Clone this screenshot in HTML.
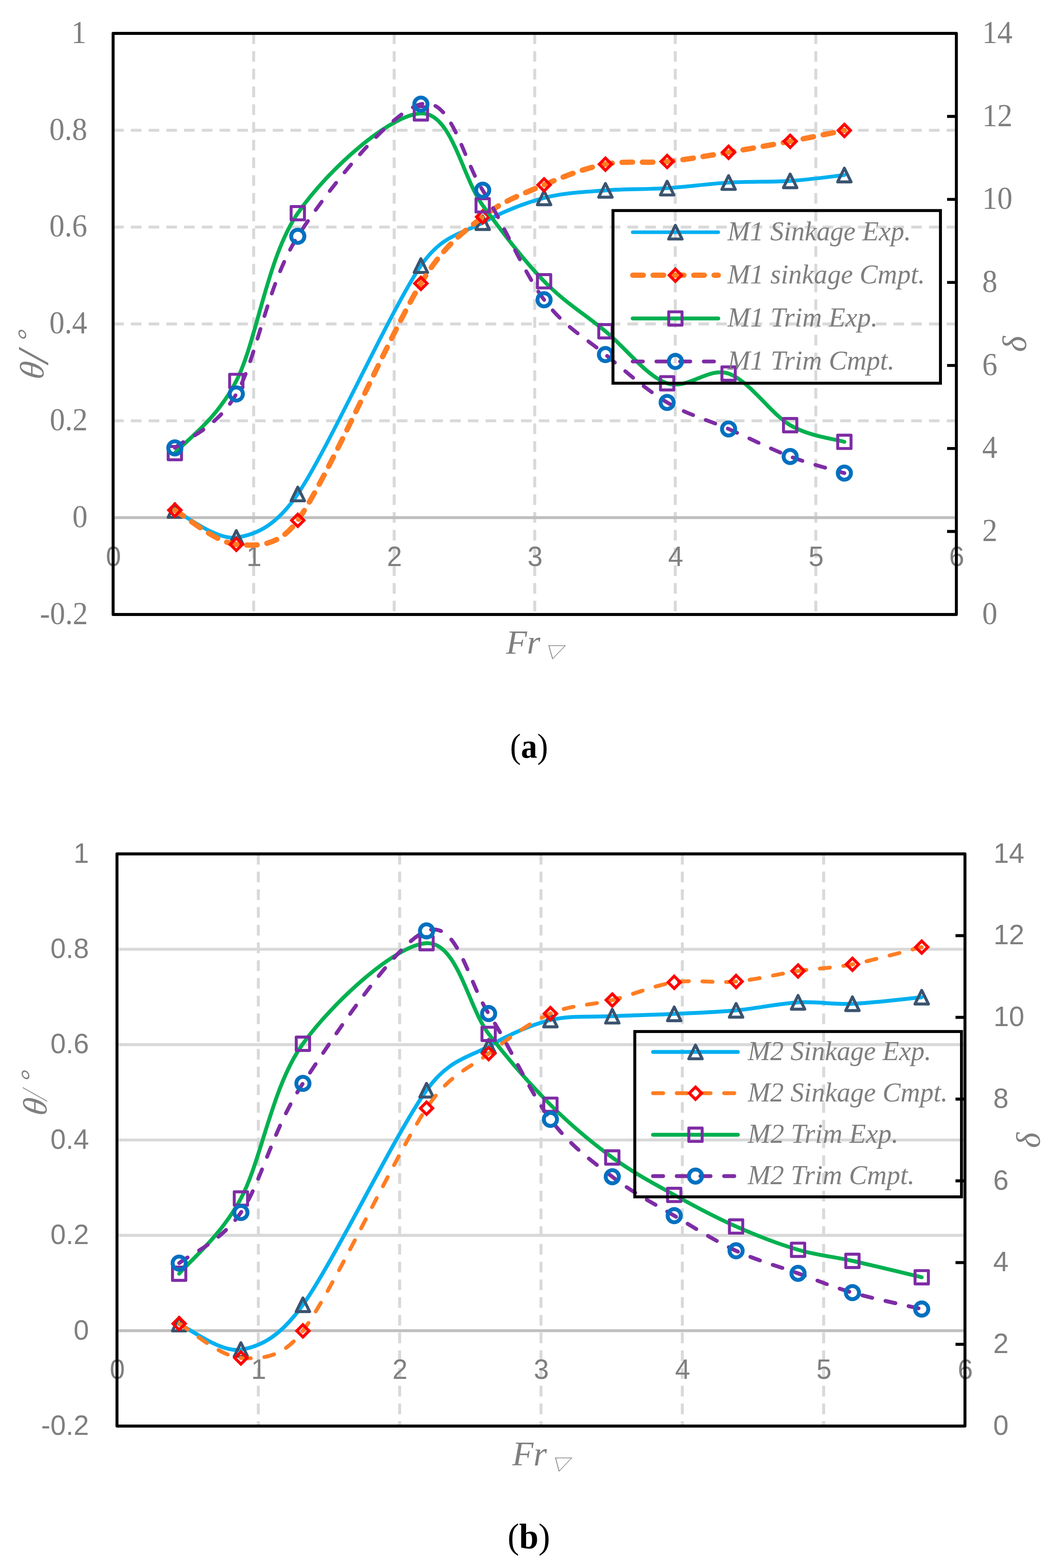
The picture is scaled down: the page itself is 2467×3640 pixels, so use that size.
<!DOCTYPE html>
<html lang="en"><head><meta charset="utf-8"><title>Sinkage and trim versus volumetric Froude number</title>
<style>html,body{margin:0;padding:0;background:#fff;width:2467px;height:3640px;overflow:hidden}svg{display:block}text{white-space:pre}</style>
</head><body>
<svg width="2467" height="3640" viewBox="0 0 2467 3640" role="img" aria-label="Sinkage and trim versus volumetric Froude number for models M1 (a) and M2 (b)">
<rect width="2467" height="3640" fill="#fff"/>
<g>
<g fill="none" stroke="#d9d9d9" stroke-width="6.86">
<path d="M588.67 77.5V1426.5" stroke-dasharray="24.7 16.46"/>
<path d="M914.83 77.5V1426.5" stroke-dasharray="24.7 16.46"/>
<path d="M1241 77.5V1426.5" stroke-dasharray="24.7 16.46"/>
<path d="M1567.17 77.5V1426.5" stroke-dasharray="24.7 16.46"/>
<path d="M1893.33 77.5V1426.5" stroke-dasharray="24.7 16.46"/>
<path d="M262.5 302.33H2219.5" stroke-dasharray="24.7 16.46"/>
<path d="M262.5 527.17H2219.5" stroke-dasharray="24.7 16.46"/>
<path d="M262.5 752H2219.5" stroke-dasharray="24.7 16.46"/>
<path d="M262.5 976.83H2219.5" stroke-dasharray="24.7 16.46"/>
</g>
<g fill="#7f7f7f" font-family="'Liberation Serif',serif" font-size="73">
<g text-anchor="end">
<text transform="translate(200.5 99.8) scale(0.965 1)">1</text>
<text transform="translate(202.5 324.63) scale(0.965 1)">0.8</text>
<text transform="translate(202.5 549.47) scale(0.965 1)">0.6</text>
<text transform="translate(202.5 774.3) scale(0.965 1)">0.4</text>
<text transform="translate(203.5 999.13) scale(0.965 1)">0.2</text>
<text transform="translate(203.2 1223.97) scale(0.965 1)">0</text>
<text transform="translate(204 1448.8) scale(0.965 1)">-0.2</text>
</g><g>
<text transform="translate(2279.4 1448.8) scale(0.965 1)">0</text>
<text transform="translate(2279.4 1256.09) scale(0.965 1)">2</text>
<text transform="translate(2279.4 1063.37) scale(0.965 1)">4</text>
<text transform="translate(2279.4 870.66) scale(0.965 1)">6</text>
<text transform="translate(2279.4 677.94) scale(0.965 1)">8</text>
<text transform="translate(2279.4 485.23) scale(0.965 1)">10</text>
<text transform="translate(2279.4 292.51) scale(0.965 1)">12</text>
<text transform="translate(2279.4 99.8) scale(0.965 1)">14</text>
</g>
<g text-anchor="middle" font-family="'Liberation Sans',sans-serif" font-size="65.3">
<text transform="translate(263.3 1313.57) scale(0.965 1)">0</text>
<text transform="translate(589.47 1313.57) scale(0.965 1)">1</text>
<text transform="translate(915.63 1313.57) scale(0.965 1)">2</text>
<text transform="translate(1241.8 1313.57) scale(0.965 1)">3</text>
<text transform="translate(1567.97 1313.57) scale(0.965 1)">4</text>
<text transform="translate(1894.13 1313.57) scale(0.965 1)">5</text>
<text transform="translate(2220.3 1313.57) scale(0.965 1)">6</text>
</g></g>
<path d="M262.5 1201.67H2219.5" fill="none" stroke="#bfbfbf" stroke-width="6.86"/>
<g fill="none" stroke-linecap="round" stroke-linejoin="round">
<path d="M405.8 1185.1 C429.57 1195.55 500.85 1254.18 548.4 1247.8 C595.95 1241.42 642.01 1219.12 691.1 1146.8 C762.5 1041.62 905.28 721.67 976.8 616.7 C1025.97 544.53 1072.55 543.2 1120.2 517 C1167.85 490.8 1215.22 472 1262.7 459.5 C1310.18 447 1357.5 445.78 1405.1 442 C1452.7 438.22 1500.67 439.83 1548.3 436.8 C1595.93 433.77 1643.32 426.6 1690.9 423.8 C1738.48 421 1789.02 422.9 1833.8 420 C1878.58 417.1 1938.63 408.67 1959.6 406.4" stroke="#00b0f0" stroke-width="8.8"/>
<g stroke="#3b536f" stroke-width="6.86"><path d="M405.8 1169.1L421.4 1200.9L390.2 1200.9Z"/><path d="M548.4 1231.8L564 1263.6L532.8 1263.6Z"/><path d="M691.1 1130.8L706.7 1162.6L675.5 1162.6Z"/><path d="M976.8 600.7L992.4 632.5L961.2 632.5Z"/><path d="M1120.2 501L1135.8 532.8L1104.6 532.8Z"/><path d="M1262.7 443.5L1278.3 475.3L1247.1 475.3Z"/><path d="M1405.1 426L1420.7 457.8L1389.5 457.8Z"/><path d="M1548.3 420.8L1563.9 452.6L1532.7 452.6Z"/><path d="M1690.9 407.8L1706.5 439.6L1675.3 439.6Z"/><path d="M1833.8 404L1849.4 435.8L1818.2 435.8Z"/><path d="M1959.6 390.4L1975.2 422.2L1944 422.2Z"/></g>
<path d="M405.8 1184.3 C429.57 1197.53 500.85 1259.77 548.4 1263.7 C595.95 1267.63 646.87 1270.45 691.1 1207.9 C762.5 1106.93 905.28 775.3 976.8 657.9 C1031.61 567.92 1072.55 541.62 1120.2 503.5 C1167.85 465.38 1215.22 449.58 1262.7 429.2 C1310.18 408.82 1357.5 390.25 1405.1 381.2 C1452.7 372.15 1500.67 379.52 1548.3 374.9 C1595.93 370.28 1643.32 361.3 1690.9 353.5 C1738.48 345.7 1789.02 336.55 1833.8 328.1 C1878.58 319.65 1938.63 307.02 1959.6 302.8" stroke="#ff7d23" stroke-width="12.4" stroke-dasharray="24.4 22.8"/>
<g stroke="#ff0000" stroke-width="6.86" stroke-linejoin="miter"><path d="M405.8 1170L420.1 1184.3L405.8 1198.6L391.5 1184.3Z"/><path d="M548.4 1249.4L562.7 1263.7L548.4 1278L534.1 1263.7Z"/><path d="M691.1 1193.6L705.4 1207.9L691.1 1222.2L676.8 1207.9Z"/><path d="M976.8 643.6L991.1 657.9L976.8 672.2L962.5 657.9Z"/><path d="M1120.2 489.2L1134.5 503.5L1120.2 517.8L1105.9 503.5Z"/><path d="M1262.7 414.9L1277 429.2L1262.7 443.5L1248.4 429.2Z"/><path d="M1405.1 366.9L1419.4 381.2L1405.1 395.5L1390.8 381.2Z"/><path d="M1548.3 360.6L1562.6 374.9L1548.3 389.2L1534 374.9Z"/><path d="M1690.9 339.2L1705.2 353.5L1690.9 367.8L1676.6 353.5Z"/><path d="M1833.8 313.8L1848.1 328.1L1833.8 342.4L1819.5 328.1Z"/><path d="M1959.6 288.5L1973.9 302.8L1959.6 317.1L1945.3 302.8Z"/></g>
<path d="M405.8 1051.9 C429.57 1023.97 500.85 977.13 548.4 884.3 C595.95 791.47 619.7 598.4 691.1 494.9 C762.5 391.4 905.28 266.33 976.8 263.3 C1048.32 260.27 1072.55 411.77 1120.2 476.7 C1167.85 541.63 1215.22 604.18 1262.7 652.9 C1310.18 701.62 1357.5 729.52 1405.1 769 C1452.7 808.48 1500.67 873.43 1548.3 889.8 C1595.93 906.17 1643.32 851 1690.9 867.2 C1738.48 883.4 1789.02 960.58 1833.8 987 C1878.58 1013.42 1938.63 1019.25 1959.6 1025.7" stroke="#00b050" stroke-width="9"/>
<g stroke="#7e2ca5" stroke-width="6.86"><rect x="390.35" y="1036.45" width="30.9" height="30.9"/><rect x="532.95" y="868.85" width="30.9" height="30.9"/><rect x="675.65" y="479.45" width="30.9" height="30.9"/><rect x="961.35" y="247.85" width="30.9" height="30.9"/><rect x="1104.75" y="461.25" width="30.9" height="30.9"/><rect x="1247.25" y="637.45" width="30.9" height="30.9"/><rect x="1389.65" y="753.55" width="30.9" height="30.9"/><rect x="1532.85" y="874.35" width="30.9" height="30.9"/><rect x="1675.45" y="851.75" width="30.9" height="30.9"/><rect x="1818.35" y="971.55" width="30.9" height="30.9"/><rect x="1944.15" y="1010.25" width="30.9" height="30.9"/></g>
<path d="M405.8 1039.7 C429.57 1018.85 500.85 996.45 548.4 914.6 C595.95 832.75 619.7 660.73 691.1 548.6 C762.5 436.47 905.28 259.63 976.8 241.8 C1048.32 223.97 1072.55 365.92 1120.2 441.6 C1167.85 517.28 1215.22 632.32 1262.7 695.9 C1310.18 759.48 1357.5 783.37 1405.1 823.1 C1452.7 862.83 1500.67 905.52 1548.3 934.3 C1595.93 963.08 1643.32 974.88 1690.9 995.8 C1738.48 1016.72 1789.02 1042.72 1833.8 1059.8 C1878.58 1076.88 1938.63 1091.88 1959.6 1098.3" stroke="#7e2ca5" stroke-width="8.8" stroke-dasharray="23.8 31.2"/>
<g stroke="#0070c0" stroke-width="9.14"><circle cx="405.8" cy="1039.7" r="15.25"/><circle cx="548.4" cy="914.6" r="15.25"/><circle cx="691.1" cy="548.6" r="15.25"/><circle cx="976.8" cy="241.8" r="15.25"/><circle cx="1120.2" cy="441.6" r="15.25"/><circle cx="1262.7" cy="695.9" r="15.25"/><circle cx="1405.1" cy="823.1" r="15.25"/><circle cx="1548.3" cy="934.3" r="15.25"/><circle cx="1690.9" cy="995.8" r="15.25"/><circle cx="1833.8" cy="1059.8" r="15.25"/><circle cx="1959.6" cy="1098.3" r="15.25"/></g>
</g>
<g fill="none" stroke="#000" stroke-width="6.86" stroke-linejoin="round">
<rect x="262.5" y="77.5" width="1957" height="1349"/>
<path d="M2198 1233.79H2219.5M2198 1041.07H2219.5M2198 848.36H2219.5M2198 655.64H2219.5M2198 462.93H2219.5M2198 270.21H2219.5"/>
</g>
<g fill="none" stroke-linecap="round" stroke-linejoin="round">
<path d="M1468.3 539.1H1667" stroke="#00b0f0" stroke-width="8.3"/>
<g stroke="#3b536f" stroke-width="6.86"><path d="M1567.4 523.1L1583 554.9L1551.8 554.9Z"/></g>
<path d="M1468.5 638.9H1666.9" stroke="#ff7d23" stroke-width="12.4" stroke-dasharray="24.4 22.8"/>
<g stroke="#ff0000" stroke-width="6.86" stroke-linejoin="miter"><path d="M1567.4 624.6L1581.7 638.9L1567.4 653.2L1553.1 638.9Z"/></g>
<path d="M1468.3 739.3H1667" stroke="#00b050" stroke-width="9"/>
<g stroke="#7e2ca5" stroke-width="6.86"><rect x="1551.95" y="723.85" width="30.9" height="30.9"/></g>
<path d="M1468.3 839.1H1667" stroke="#7e2ca5" stroke-width="8.8" stroke-dasharray="23.8 31.2"/>
<g stroke="#0070c0" stroke-width="9.14"><circle cx="1567.4" cy="839.1" r="15.25"/></g>
</g>
<g fill="#7f7f7f" font-family="'Liberation Serif',serif" font-style="italic" font-size="64">
<text transform="translate(1688.5 557.8) scale(0.978 1)">M1 Sinkage Exp.</text>
<text transform="translate(1688.5 657.6) scale(0.98 1)">M1 sinkage Cmpt.</text>
<text transform="translate(1688.5 758) scale(0.985 1)">M1 Trim Exp.</text>
<text transform="translate(1688.5 857.8) scale(0.986 1)">M1 Trim Cmpt.</text>
</g>
<rect x="1422.6" y="488.8" width="760" height="400.8" fill="none" stroke="#000" stroke-width="6.86"/>
<text transform="translate(100.8 882.95) rotate(-90) skewX(-8) scale(0.9843 0.9622)" font-size="82" font-family="'Liberation Serif',serif" font-style="italic" fill="#7f7f7f">θ</text><text transform="translate(110.9 843.15) rotate(-90) scale(1.1895 1.1279)" font-size="90" font-family="'Liberation Serif',serif" font-style="italic" fill="#7f7f7f">/</text><text transform="translate(83.15 800.9) rotate(-90) skewX(-18) scale(1.3008 1.2145)" font-size="50" font-family="'Liberation Serif',serif" font-style="italic" fill="#7f7f7f">°</text><text transform="translate(2381 817.1) rotate(-90) scale(0.9617 0.9492)" font-size="82" font-family="'Liberation Serif',serif" font-style="italic" fill="#7f7f7f">δ</text><text transform="translate(1174.6 1516.8) scale(0.9926 0.98)" font-size="80" font-family="'Liberation Serif',serif" font-style="italic" fill="#7f7f7f">Fr</text><text transform="translate(1260.88 1528.1) skewX(-19) scale(1.0923 1)" font-size="40" font-family="'Liberation Sans','Noto Sans CJK SC','DejaVu Sans',sans-serif" fill="#7f7f7f">▽</text><text transform="translate(1183.82 1758.85) scale(0.9002 0.955)" font-size="84" font-family="'Liberation Serif',serif" fill="#000">(<tspan font-weight="bold">a</tspan>)</text>
</g>
<g>
<g fill="none" stroke="#d9d9d9" stroke-width="6.86">
<path d="M599.5 1982.3V3310.5" stroke-dasharray="24.7 16.46"/>
<path d="M927.5 1982.3V3310.5" stroke-dasharray="24.7 16.46"/>
<path d="M1255.5 1982.3V3310.5" stroke-dasharray="24.7 16.46"/>
<path d="M1583.5 1982.3V3310.5" stroke-dasharray="24.7 16.46"/>
<path d="M1911.5 1982.3V3310.5" stroke-dasharray="24.7 16.46"/>
<path d="M271.5 2203.67H2239.5"/>
<path d="M271.5 2425.03H2239.5"/>
<path d="M271.5 2646.4H2239.5"/>
<path d="M271.5 2867.77H2239.5"/>
</g>
<g fill="#7f7f7f" font-family="'Liberation Sans',sans-serif" font-size="65.3">
<g text-anchor="end">
<text transform="translate(206.4 2002.7) scale(0.985 1)">1</text>
<text transform="translate(206.4 2224.07) scale(0.985 1)">0.8</text>
<text transform="translate(206.4 2445.43) scale(0.985 1)">0.6</text>
<text transform="translate(206.4 2666.8) scale(0.985 1)">0.4</text>
<text transform="translate(206.4 2888.17) scale(0.985 1)">0.2</text>
<text transform="translate(206.4 3109.53) scale(0.985 1)">0</text>
<text transform="translate(206.4 3330.9) scale(0.985 1)">-0.2</text>
</g><g>
<text transform="translate(2305 3330.9) scale(0.985 1)">0</text>
<text transform="translate(2305 3141.16) scale(0.985 1)">2</text>
<text transform="translate(2305 2951.41) scale(0.985 1)">4</text>
<text transform="translate(2305 2761.67) scale(0.985 1)">6</text>
<text transform="translate(2305 2571.93) scale(0.985 1)">8</text>
<text transform="translate(2305.8 2382.19) scale(0.985 1)">10</text>
<text transform="translate(2305.8 2192.44) scale(0.985 1)">12</text>
<text transform="translate(2305.8 2002.7) scale(0.985 1)">14</text>
</g>
<g text-anchor="middle" font-family="'Liberation Sans',sans-serif" font-size="65.3">
<text transform="translate(272.3 3200.83) scale(0.965 1)">0</text>
<text transform="translate(600.3 3200.83) scale(0.965 1)">1</text>
<text transform="translate(928.3 3200.83) scale(0.965 1)">2</text>
<text transform="translate(1256.3 3200.83) scale(0.965 1)">3</text>
<text transform="translate(1584.3 3200.83) scale(0.965 1)">4</text>
<text transform="translate(1912.3 3200.83) scale(0.965 1)">5</text>
<text transform="translate(2240.3 3200.83) scale(0.965 1)">6</text>
</g></g>
<path d="M271.5 3089.13H2239.5" fill="none" stroke="#bfbfbf" stroke-width="6.86"/>
<g fill="none" stroke-linecap="round" stroke-linejoin="round">
<path d="M415.8 3073.8 C439.68 3083.68 511.23 3140.57 559.1 3133.1 C606.97 3125.63 651.33 3101.22 703 3029 C774.8 2928.65 918.07 2631.03 989.9 2531 C1041.42 2459.25 1086.08 2455.97 1134 2428.8 C1181.92 2401.63 1229.57 2379.62 1277.4 2368 C1325.23 2356.38 1373.12 2361.48 1421 2359.1 C1468.88 2356.72 1516.82 2355.97 1564.7 2353.7 C1612.58 2351.43 1660.4 2349.97 1708.3 2345.5 C1756.2 2341.03 1807.1 2329.45 1852.1 2326.9 C1897.1 2324.35 1930.47 2332.18 1978.3 2330.2 C2026.13 2328.22 2112.3 2317.53 2139.1 2315" stroke="#00b0f0" stroke-width="9"/>
<g stroke="#3b536f" stroke-width="6.86"><path d="M415.8 3057.8L431.4 3089.6L400.2 3089.6Z"/><path d="M559.1 3117.1L574.7 3148.9L543.5 3148.9Z"/><path d="M703 3013L718.6 3044.8L687.4 3044.8Z"/><path d="M989.9 2515L1005.5 2546.8L974.3 2546.8Z"/><path d="M1134 2412.8L1149.6 2444.6L1118.4 2444.6Z"/><path d="M1277.4 2352L1293 2383.8L1261.8 2383.8Z"/><path d="M1421 2343.1L1436.6 2374.9L1405.4 2374.9Z"/><path d="M1564.7 2337.7L1580.3 2369.5L1549.1 2369.5Z"/><path d="M1708.3 2329.5L1723.9 2361.3L1692.7 2361.3Z"/><path d="M1852.1 2310.9L1867.7 2342.7L1836.5 2342.7Z"/><path d="M1978.3 2314.2L1993.9 2346L1962.7 2346Z"/><path d="M2139.1 2299L2154.7 2330.8L2123.5 2330.8Z"/></g>
<path d="M415.8 3072.8 C439.68 3086.07 511.23 3149.62 559.1 3152.4 C606.97 3155.18 656.16 3152.53 703 3089.5 C774.8 2992.88 918.07 2679.98 989.9 2572.7 C1043.31 2492.93 1086.08 2482.42 1134 2445.8 C1181.92 2409.18 1229.57 2373.7 1277.4 2353 C1325.23 2332.3 1373.12 2333.7 1421 2321.6 C1468.88 2309.5 1516.82 2287.58 1564.7 2280.4 C1612.58 2273.22 1660.4 2282.88 1708.3 2278.5 C1756.2 2274.12 1807.1 2260.75 1852.1 2254.1 C1897.1 2247.45 1930.47 2247.83 1978.3 2238.6 C2026.13 2229.37 2112.3 2205.35 2139.1 2198.7" stroke="#ff7d23" stroke-width="9" stroke-dasharray="23.6 31.4"/>
<g stroke="#ff0000" stroke-width="6.86" stroke-linejoin="miter"><path d="M415.8 3058.5L430.1 3072.8L415.8 3087.1L401.5 3072.8Z"/><path d="M559.1 3138.1L573.4 3152.4L559.1 3166.7L544.8 3152.4Z"/><path d="M703 3075.2L717.3 3089.5L703 3103.8L688.7 3089.5Z"/><path d="M989.9 2558.4L1004.2 2572.7L989.9 2587L975.6 2572.7Z"/><path d="M1134 2431.5L1148.3 2445.8L1134 2460.1L1119.7 2445.8Z"/><path d="M1277.4 2338.7L1291.7 2353L1277.4 2367.3L1263.1 2353Z"/><path d="M1421 2307.3L1435.3 2321.6L1421 2335.9L1406.7 2321.6Z"/><path d="M1564.7 2266.1L1579 2280.4L1564.7 2294.7L1550.4 2280.4Z"/><path d="M1708.3 2264.2L1722.6 2278.5L1708.3 2292.8L1694 2278.5Z"/><path d="M1852.1 2239.8L1866.4 2254.1L1852.1 2268.4L1837.8 2254.1Z"/><path d="M1978.3 2224.3L1992.6 2238.6L1978.3 2252.9L1964 2238.6Z"/><path d="M2139.1 2184.4L2153.4 2198.7L2139.1 2213L2124.8 2198.7Z"/></g>
<path d="M415.8 2956.8 C439.68 2927.7 511.23 2871.17 559.1 2782.2 C606.97 2693.23 631.2 2521.77 703 2423 C774.8 2324.23 918.07 2193.42 989.9 2189.6 C1061.73 2185.78 1086.08 2337.6 1134 2400.1 C1181.92 2462.6 1229.57 2516.78 1277.4 2564.6 C1325.23 2612.42 1373.12 2652.12 1421 2687 C1468.88 2721.88 1516.82 2747.2 1564.7 2773.9 C1612.58 2800.6 1660.4 2825.97 1708.3 2847.2 C1756.2 2868.43 1807.1 2888 1852.1 2901.3 C1897.1 2914.6 1930.47 2916.37 1978.3 2927 C2026.13 2937.63 2112.3 2958.75 2139.1 2965.1" stroke="#00b050" stroke-width="9"/>
<g stroke="#7e2ca5" stroke-width="6.86"><rect x="400.35" y="2941.35" width="30.9" height="30.9"/><rect x="543.65" y="2766.75" width="30.9" height="30.9"/><rect x="687.55" y="2407.55" width="30.9" height="30.9"/><rect x="974.45" y="2174.15" width="30.9" height="30.9"/><rect x="1118.55" y="2384.65" width="30.9" height="30.9"/><rect x="1261.95" y="2549.15" width="30.9" height="30.9"/><rect x="1405.55" y="2671.55" width="30.9" height="30.9"/><rect x="1549.25" y="2758.45" width="30.9" height="30.9"/><rect x="1692.85" y="2831.75" width="30.9" height="30.9"/><rect x="1836.65" y="2885.85" width="30.9" height="30.9"/><rect x="1962.85" y="2911.55" width="30.9" height="30.9"/><rect x="2123.65" y="2949.65" width="30.9" height="30.9"/></g>
<path d="M415.8 2932.2 C439.68 2912.63 511.23 2884.33 559.1 2814.8 C606.97 2745.27 631.2 2623.97 703 2515 C774.8 2406.03 918.07 2188.02 989.9 2161 C1061.73 2133.98 1086.08 2279.97 1134 2352.9 C1181.92 2425.83 1229.57 2535.45 1277.4 2598.6 C1325.23 2661.75 1373.12 2694.55 1421 2731.8 C1468.88 2769.05 1516.82 2793.47 1564.7 2822.1 C1612.58 2850.73 1660.4 2881.28 1708.3 2903.6 C1756.2 2925.92 1807.1 2939.8 1852.1 2956 C1897.1 2972.2 1930.47 2986.98 1978.3 3000.8 C2026.13 3014.62 2112.3 3032.55 2139.1 3038.9" stroke="#7e2ca5" stroke-width="9" stroke-dasharray="23.6 31.4"/>
<g stroke="#0070c0" stroke-width="9.14"><circle cx="415.8" cy="2932.2" r="15.25"/><circle cx="559.1" cy="2814.8" r="15.25"/><circle cx="703" cy="2515" r="15.25"/><circle cx="989.9" cy="2161" r="15.25"/><circle cx="1134" cy="2352.9" r="15.25"/><circle cx="1277.4" cy="2598.6" r="15.25"/><circle cx="1421" cy="2731.8" r="15.25"/><circle cx="1564.7" cy="2822.1" r="15.25"/><circle cx="1708.3" cy="2903.6" r="15.25"/><circle cx="1852.1" cy="2956" r="15.25"/><circle cx="1978.3" cy="3000.8" r="15.25"/><circle cx="2139.1" cy="3038.9" r="15.25"/></g>
</g>
<g fill="none" stroke="#000" stroke-width="6.86" stroke-linejoin="round">
<rect x="271.5" y="1982.3" width="1968" height="1328.2"/>
<path d="M2217.5 3120.76H2239.5M2217.5 2931.01H2239.5M2217.5 2741.27H2239.5M2217.5 2551.53H2239.5M2217.5 2361.79H2239.5M2217.5 2172.04H2239.5"/>
</g>
<g fill="none" stroke-linecap="round" stroke-linejoin="round">
<path d="M1515.5 2442.1H1712.5" stroke="#00b0f0" stroke-width="9"/>
<g stroke="#3b536f" stroke-width="6.86"><path d="M1614.1 2426.1L1629.7 2457.9L1598.5 2457.9Z"/></g>
<path d="M1515.5 2537.8H1712.5" stroke="#ff7d23" stroke-width="9" stroke-dasharray="23.6 31.4"/>
<g stroke="#ff0000" stroke-width="6.86" stroke-linejoin="miter"><path d="M1614.1 2523.5L1628.4 2537.8L1614.1 2552.1L1599.8 2537.8Z"/></g>
<path d="M1515.5 2634.2H1712.5" stroke="#00b050" stroke-width="9"/>
<g stroke="#7e2ca5" stroke-width="6.86"><rect x="1598.65" y="2618.75" width="30.9" height="30.9"/></g>
<path d="M1515.5 2730.2H1712.5" stroke="#7e2ca5" stroke-width="9" stroke-dasharray="23.6 31.4"/>
<g stroke="#0070c0" stroke-width="9.14"><circle cx="1614.1" cy="2730.2" r="15.25"/></g>
</g>
<g fill="#7f7f7f" font-family="'Liberation Serif',serif" font-style="italic" font-size="64">
<text transform="translate(1735.5 2460.8) scale(0.978 1)">M2 Sinkage Exp.</text>
<text transform="translate(1735.5 2556.5) scale(0.978 1)">M2 Sinkage Cmpt.</text>
<text transform="translate(1735.5 2652.9) scale(0.988 1)">M2 Trim Exp.</text>
<text transform="translate(1735.5 2748.9) scale(0.985 1)">M2 Trim Cmpt.</text>
</g>
<rect x="1473.2" y="2394.6" width="758.2" height="383.8" fill="none" stroke="#000" stroke-width="6.86"/>
<text transform="translate(108.05 2592.15) rotate(-90) skewX(-8) scale(0.9843 0.9554)" font-size="82" font-family="'Liberation Serif',serif" font-style="italic" fill="#7f7f7f">θ</text><text transform="translate(98.95 2554.45) rotate(-90) skewX(-18) scale(0.8117 1.0682)" font-size="56" font-family="'Noto Serif CJK SC','DejaVu Sans',serif" fill="#7f7f7f">/</text><text transform="translate(90 2519.95) rotate(-90) skewX(-18) scale(1.2897 1.2)" font-size="50" font-family="'Liberation Serif',serif" font-style="italic" fill="#7f7f7f">°</text><text transform="translate(2412.9 2664.9) rotate(-90) scale(0.9401 0.9628)" font-size="82" font-family="'Liberation Serif',serif" font-style="italic" fill="#7f7f7f">δ</text><text transform="translate(1189.1 3401.9) scale(1 1)" font-size="80" font-family="'Liberation Serif',serif" font-style="italic" fill="#7f7f7f">Fr</text><text transform="translate(1276.4 3413.5) skewX(-19) scale(1.0705 1.0128)" font-size="40" font-family="'Liberation Sans','Noto Sans CJK SC','DejaVu Sans',sans-serif" fill="#7f7f7f">▽</text><text transform="translate(1177.95 3593.6) scale(0.9621 0.975)" font-size="84" font-family="'Liberation Serif',serif" fill="#000">(<tspan font-weight="bold">b</tspan>)</text>
</g>
</svg></body></html>
